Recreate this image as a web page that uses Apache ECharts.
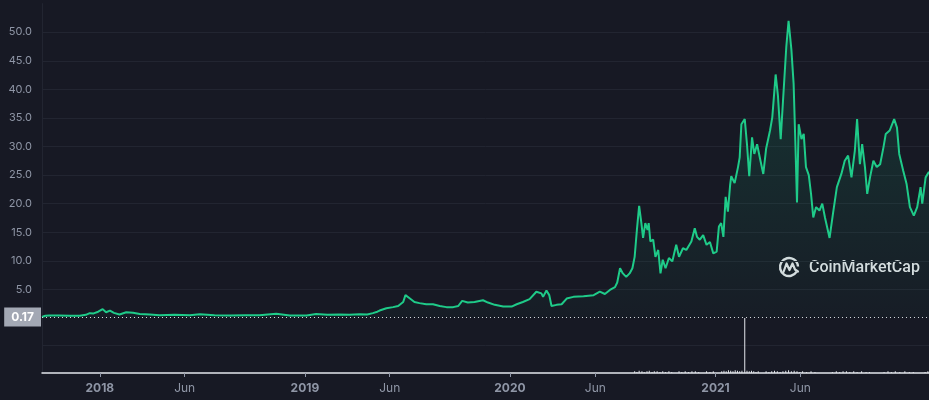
<!DOCTYPE html>
<html><head><meta charset="utf-8">
<script src="https://cdn.jsdelivr.net/npm/echarts@6/dist/echarts.min.js"></script>
<style>html,body{margin:0;padding:0;background:#171924;}#c{width:929px;height:400px;}</style>
</head><body><div id="c"></div>
<script>
// Price (USD)
const priceDates = [
'2017-09-20','2017-09-26','2017-10-03','2017-10-21','2017-11-08','2017-11-26','2017-12-07','2017-12-14','2017-12-21','2017-12-29',
'2018-01-06','2018-01-12','2018-01-19','2018-01-26','2018-02-05','2018-02-17','2018-03-01','2018-03-13','2018-03-31','2018-04-17',
'2018-05-14','2018-06-10','2018-06-28','2018-07-24','2018-08-20','2018-09-16','2018-10-12','2018-11-11','2018-12-05','2019-01-04',
'2019-01-21','2019-02-10','2019-03-03','2019-03-21','2019-04-08','2019-04-22','2019-05-02','2019-05-10','2019-05-14','2019-05-26',
'2019-06-07','2019-06-16','2019-06-25','2019-06-29','2019-07-07','2019-07-15','2019-07-24','2019-08-05','2019-08-17','2019-08-29',
'2019-09-10','2019-09-22','2019-10-01','2019-10-08','2019-10-18','2019-10-30','2019-11-14','2019-11-23','2019-12-05','2019-12-20',
'2020-01-04','2020-01-13','2020-01-24','2020-02-05','2020-02-17','2020-02-26','2020-02-29','2020-03-06','2020-03-11','2020-03-15',
'2020-03-24','2020-04-02','2020-04-11','2020-04-23','2020-05-11','2020-05-29','2020-06-09','2020-06-18','2020-06-27',
'2020-07-06','2020-07-10','2020-07-15','2020-07-20','2020-07-26','2020-08-01','2020-08-06','2020-08-10','2020-08-14','2020-08-18',
'2020-08-22','2020-08-25','2020-08-29','2020-09-02','2020-09-04','2020-09-07','2020-09-12','2020-09-16','2020-09-21','2020-09-25',
'2020-09-29','2020-10-04','2020-10-10','2020-10-16','2020-10-23','2020-10-28','2020-11-04','2020-11-10','2020-11-19','2020-11-25',
'2020-11-29','2020-12-04','2020-12-10','2020-12-16','2020-12-22','2020-12-28','2021-01-03','2021-01-07','2021-01-11','2021-01-15',
'2021-01-19','2021-01-23','2021-01-27','2021-01-29',
'2021-02-04','2021-02-10','2021-02-13','2021-02-16','2021-02-22',
'2021-02-26','2021-03-02','2021-03-07','2021-03-11','2021-03-16','2021-03-22','2021-03-27','2021-04-01','2021-04-08','2021-04-12',
'2021-04-18','2021-04-22','2021-04-27','2021-05-01','2021-05-07','2021-05-11','2021-05-16','2021-05-20','2021-05-23','2021-05-26',
'2021-05-29','2021-06-03','2021-06-07','2021-06-11','2021-06-16','2021-06-20','2021-06-24','2021-06-29','2021-07-05','2021-07-10',
'2021-07-15','2021-07-23','2021-07-29','2021-08-05','2021-08-13','2021-08-19','2021-08-25','2021-08-31','2021-09-06','2021-09-10',
'2021-09-15','2021-09-19','2021-09-24','2021-09-28','2021-10-03','2021-10-09','2021-10-15','2021-10-21','2021-10-27','2021-10-31',
'2021-11-07','2021-11-15','2021-11-20','2021-11-24','2021-12-01','2021-12-07','2021-12-13','2021-12-20','2021-12-26','2022-01-01',
'2022-01-04','2022-01-10','2022-01-16'
];
const priceValues = [
0.17,0.4,0.45,0.45,0.4,0.4,0.55,0.85,0.8,1.1,
1.55,1.0,1.3,0.9,0.6,1.0,0.9,0.7,0.6,0.5,
0.55,0.5,0.65,0.5,0.45,0.5,0.5,0.75,0.45,0.45,
0.7,0.55,0.6,0.55,0.65,0.6,0.85,1.1,1.3,1.7,
1.9,2.1,2.8,4.0,3.4,2.8,2.6,2.4,2.4,2.1,
1.9,1.9,2.1,3.0,2.7,2.8,3.1,2.7,2.3,2.0,
2.0,2.4,2.8,3.3,4.6,4.3,3.7,4.8,4.0,2.1,
2.3,2.4,3.4,3.7,3.8,4.0,4.6,4.2,4.9,
5.4,6.2,8.7,7.8,7.2,7.8,8.7,10.7,15.4,19.6,
16.6,14.0,16.6,15.4,16.6,13.4,13.7,10.7,11.9,7.8,
10.2,8.7,10.5,9.9,12.8,10.7,12.2,11.9,13.4,15.7,
14.2,13.7,14.5,12.8,13.3,11.3,11.6,16.0,16.6,14.2,
21.2,18.6,23.3,24.8,
23.6,26.4,28.1,33.9,34.8,
30.4,24.8,31.6,28.7,30.4,27.5,25.2,29.6,32.8,35.1,
42.6,39.0,31.3,37.8,47.5,52.0,47.0,41.0,31.0,20.2,
33.9,31.3,32.2,26.4,25.0,21.7,17.6,19.4,18.8,20.0,
17.5,14.0,18.2,22.9,25.2,27.5,28.4,24.6,29.3,34.8,
26.9,30.4,26.4,21.7,24.6,27.5,26.4,26.9,29.9,32.2,
32.8,34.8,33.3,28.7,25.8,23.5,19.4,17.9,19.4,22.9,
20.0,24.6,25.6
];
// Volume (relative units)
const volumeDates = [
'2020-08-10','2020-08-14','2020-08-18','2020-08-23','2020-08-27','2020-09-01','2020-09-05','2020-09-10','2020-09-14','2020-09-19',
'2020-09-24','2020-09-29','2020-10-04','2020-10-10','2020-10-15','2020-10-28','2020-11-02','2020-11-08','2020-11-14','2020-11-20',
'2020-11-26','2020-12-02','2020-12-16','2020-12-22','2020-12-28','2021-01-12','2021-01-16','2021-01-20','2021-01-24','2021-01-28',
'2021-02-01','2021-02-05','2021-02-09','2021-02-13','2021-02-17','2021-02-22','2021-02-26','2021-03-02','2021-03-06','2021-03-10',
'2021-03-14','2021-03-18','2021-04-01','2021-04-06','2021-04-11','2021-04-16','2021-04-21','2021-04-26','2021-05-01','2021-05-06',
'2021-05-11','2021-05-16','2021-05-21','2021-05-26','2021-05-31','2021-06-05','2021-06-12','2021-06-20','2021-06-27','2021-07-28',
'2021-08-04','2021-08-10','2021-08-16','2021-08-22','2021-08-28','2021-09-04','2021-09-10','2021-09-18','2021-09-26','2021-10-02',
'2021-10-28','2021-11-04','2021-11-10','2021-11-17','2021-11-25','2021-12-04','2021-12-12','2021-12-19','2022-01-09','2022-01-14'
];
const volumeValues = [
3,2,4,3,2,3,4,2,3,3,
2,3,2,3,2,3,2,3,2,3,
3,2,3,2,3,3,4,3,5,4,
3,5,4,3,4,100,4,3,4,3,
2,3,3,2,3,4,3,2,3,4,
5,3,4,3,2,3,2,3,2,2,
3,2,3,3,2,3,2,3,2,2,
2,3,2,3,2,3,2,2,2,3
];
const xTickDates = ['2018-01-01','2018-06-01','2019-01-01','2019-06-01','2020-01-01','2020-06-01','2021-01-01','2021-06-01'];
const xTickLabels = ['2018','Jun','2019','Jun','2020','Jun','2021','Jun'];
const openPrice = 0.17;
const xMin = '2017-09-20', xMax = '2022-01-16';

function ts(s){const p=s.split('-').map(Number);return new Date(p[0],p[1]-1,p[2]).getTime();}
const tickTs = xTickDates.map(ts);

const chart = echarts.init(document.getElementById('c'));
const labelColor = '#8f96a6';
const gridColor = '#222531';
chart.setOption({
  backgroundColor: '#171924',
  animation: false,
  textStyle: {fontFamily: 'Inter, "Noto Sans", sans-serif'},
  grid: [
    {left: 42, right: 0, top: 3.6, height: 314.4},
    {left: 42, right: 0, top: 318, height: 55}
  ],
  xAxis: [
    {type: 'value', gridIndex: 0, min: ts(xMin), max: ts(xMax),
     axisLine: {show: false}, axisTick: {show: false}, axisLabel: {show: false}, splitLine: {show: false}},
    {type: 'value', gridIndex: 1, min: ts(xMin), max: ts(xMax),
     axisLine: {show: true, lineStyle: {color: '#e4e6eb', width: 1.5}},
     axisTick: {show: true, customValues: tickTs, length: 4, lineStyle: {color: labelColor}},
     axisLabel: {show: true, customValues: tickTs, margin: 9, color: labelColor, fontSize: 12,
       formatter: function (v) {
         let i = tickTs.findIndex(t => Math.abs(t - v) < 43200000);
         if (i < 0) return '';
         const s = xTickLabels[i];
         return /^\d/.test(s) ? '{y|' + s + '}' : '{m|' + s + '}';
       },
       rich: {y: {fontWeight: 'bold', fontSize: 12, color: labelColor}, m: {fontSize: 12, color: labelColor}}
     },
     splitLine: {show: false}}
  ],
  yAxis: [
    {type: 'value', gridIndex: 0, min: 0, max: 55, interval: 5,
     axisLine: {show: true, lineStyle: {color: gridColor}},
     axisTick: {show: false},
     axisLabel: {color: labelColor, fontSize: 11, margin: 10, showMinLabel: false, showMaxLabel: false,
       formatter: v => v.toFixed(1)},
     splitLine: {show: true, showMinLine: false, showMaxLine: false, lineStyle: {color: gridColor}}},
    {type: 'value', gridIndex: 1, min: 0, max: 100, interval: 50,
     axisLine: {show: true, lineStyle: {color: gridColor}},
     axisTick: {show: false}, axisLabel: {show: false},
     splitLine: {show: true, showMinLine: false, showMaxLine: false, lineStyle: {color: gridColor}}}
  ],
  series: [
    {type: 'line', xAxisIndex: 0, yAxisIndex: 0, showSymbol: false, symbol: 'none',
     data: priceDates.map((d, i) => [ts(d), priceValues[i]]),
     lineStyle: {color: '#1fcb89', width: 2},
     areaStyle: {color: new echarts.graphic.LinearGradient(0, 0, 0, 1, [
       {offset: 0, color: 'rgba(22,199,132,0.25)'}, {offset: 1, color: 'rgba(22,199,132,0.03)'}])},
     markLine: {symbol: 'none', silent: true, animation: false,
       lineStyle: {color: '#d5d8de', type: [1, 3], width: 1},
       label: {position: 'start', formatter: openPrice.toFixed(2), color: '#ffffff', fontWeight: 'bold',
         fontSize: 12, backgroundColor: '#a3a8b4', padding: [4, 7, 3, 7], distance: 1},
       data: [{yAxis: openPrice}]}
    },
    {type: 'bar', xAxisIndex: 1, yAxisIndex: 1, barWidth: 1,
     itemStyle: {color: '#e4e6eb'},
     data: volumeDates.map((d, i) => [ts(d), volumeValues[i]])}
  ],
  graphic: [
    {type: 'arc', shape: {cx: 789, cy: 267, r: 9, startAngle: 0.55, endAngle: Math.PI * 2 - 0.05, clockwise: true},
     style: {stroke: '#dcdde2', lineWidth: 2.4, fill: null}},
    {type: 'polyline', shape: {points: [[783.5, 272], [786.5, 263.5], [789.5, 270], [792.5, 263.5], [795, 269.5], [798, 271.5]]},
     style: {stroke: '#dcdde2', lineWidth: 2.2, fill: null, lineJoin: 'round', lineCap: 'round'}},
    {type: 'text', x: 809, y: 268,
     style: {text: 'CoinMarketCap', fill: '#dcdde2', font: '500 16px Roboto, "Noto Sans", sans-serif', verticalAlign: 'middle'}}
  ]
});
</script></body></html>
